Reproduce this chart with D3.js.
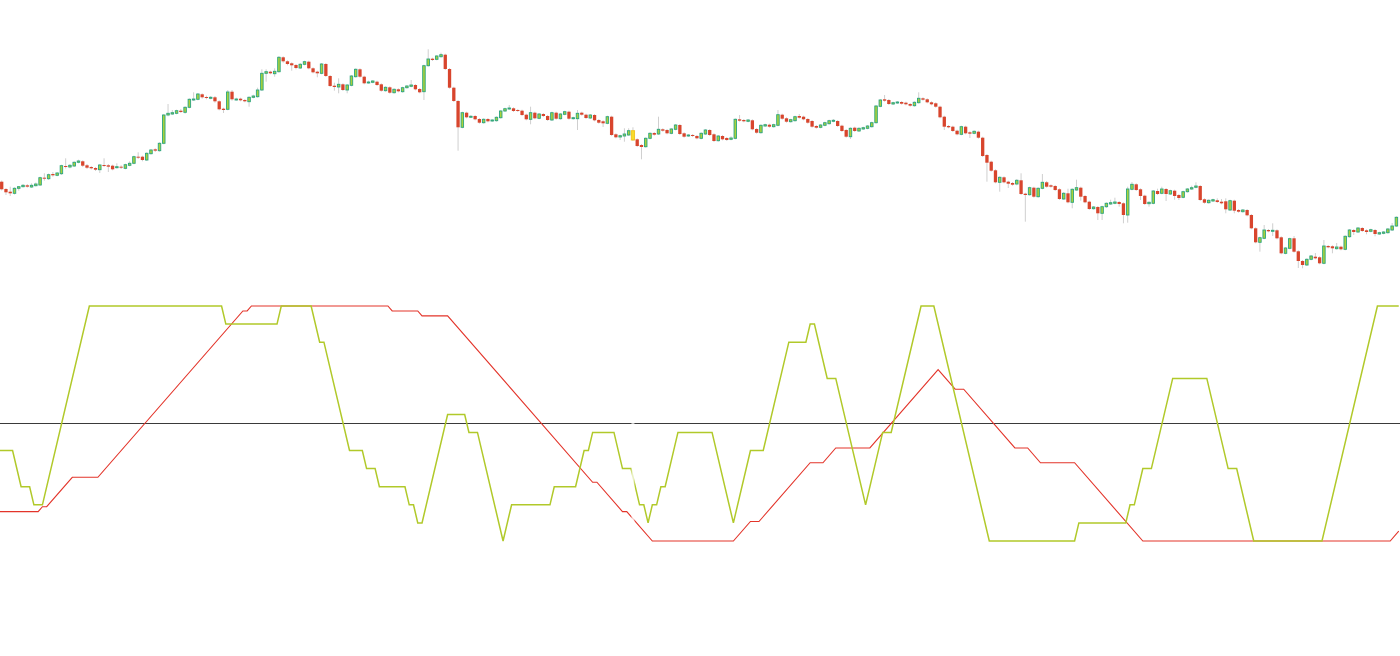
<!DOCTYPE html>
<html>
<head>
<meta charset="utf-8">
<script src="https://cdn.jsdelivr.net/npm/d3@7"></script>
<style>
  html, body { margin: 0; padding: 0; background: #fff; }
  svg { display: block; }
</style>
</head>
<body>
<svg id="chart" width="1400" height="656"></svg>
<script>
// Candle data, one entry per bar (price units are arbitrary, no axis shown)
var opens = [118.3,111,108.3,106.7,111.7,113.3,114.7,113,114.3,115,122.3,121.3,126,124.7,126.3,134,133,134,137.7,138.7,
  134.7,133,132,130.3,135,134.7,134.3,132.3,133.3,131.7,134.7,136.7,143.3,143.3,140,146.3,150.7,149.3,156.7,185,
  186,186.7,189.3,187.7,192.7,200,200.7,205.7,203,201.7,202.7,198.7,191.3,190.7,208.3,200.3,201.3,200,198.3,202.7,
  203.3,210,226.7,228.3,226.3,228.3,242.7,238.7,236.7,235,232,235.7,238.3,231.7,228.3,226.7,236,224,214.3,213,
  215.7,210,214.7,223.3,230.7,223.3,217.3,217.7,218.3,215.7,209.3,212.7,207.3,210.7,208.3,212.3,213.7,215,211,208.3,
  234.3,241.3,240.7,243.3,245.3,231,212.3,199,172.7,187.3,183.3,184,181,177.3,181,179,179.3,182.3,189,191,
  191.7,190,189.3,185.3,180.7,187.3,181.7,186,184,180,187.3,181.3,185.7,188.3,181.3,181.3,187.3,185.3,182,185,
  180,178.7,176.7,183.3,165.7,163,164,165,169.3,160.7,155,153.3,161.7,167,166,170.7,170,166.7,170.7,175,
  166.7,164,165,164,161.7,166,170,165.7,159.3,164,162,160.7,161.7,180.7,180,178.7,179.7,171,167.3,174,
  175.3,173.3,174.7,185.3,181.7,178.3,179.3,184,183.3,181,179,174,172.7,174.7,176.3,178.7,179,174.3,170,163.3,
  172.3,169,171,171.7,173.3,177.3,193.7,200.7,200,196,197,198,197.3,196,194.3,197.3,201.7,200.7,197.7,196.7,
  193.3,183.3,174,173.3,169.3,165.7,173.3,167.7,166.7,168.3,162.3,145,138.3,129.7,117.7,122.7,118.3,117,116,119.7,
  106.3,105.3,112.3,103.3,111.7,117.7,114.7,114,110.7,101,106.7,97.7,110,112.3,104,98.3,91.3,93,86.7,93.3,
  96,96.7,98,96.7,85,110.7,115.7,110.7,104.3,96.3,96.7,109,106.7,111,106,109.3,105,102.7,108.3,111,
  112.7,114,100.7,97.3,99,99.7,98.3,98.7,90,99.3,90,88.3,90,85,71.7,57.7,61.7,70,68.7,69.7,
  62.7,46.7,51.7,61.7,48.7,39,35,40.7,43.3,42.7,36.7,54,53.7,51.3,53.3,50.7,63.3,70,68,72,
  69.7,68.7,70,66,66.7,67.3,70,74];
var closes = [110.7,107.7,106.7,111.7,113.3,114.7,113.3,114.7,116,122.3,121.3,125.3,124.7,127,134.3,133,134.7,137.7,139,134.3,
  132.3,131.7,130.3,135,134,133.3,130.7,133.3,132.3,135.3,136.7,143.3,142.7,140,146.7,150,149.3,156.7,185,186.7,
  187.3,189.3,188,192.7,200.7,201,206,202.7,202,202.7,198.7,190.7,190,208,200.7,201,199.7,198.7,202.7,204,
  210,226.7,228.3,226.7,228.7,242.7,238.7,236,234.7,232,235.7,238.3,231.7,227.7,226.7,236,224,214,213,215.7,
  210,215,224,230.7,223.3,216.7,218,219,215,209.3,212.7,207.3,210.7,208.7,212.3,214,215,210.7,207.7,234.3,
  241,240,244,245.3,231,212.3,199,172.7,187.3,182.7,183.7,180.7,177.3,180.7,178.7,180,182.7,189,191.3,192,
  189,189,185,180.7,187.3,181.7,186,184,180,187.3,181.3,186,188.3,181.3,182.3,186.7,185.3,182,185,179.7,
  177.3,176.7,183.3,165,162.7,164.3,166,169.3,160,154,153,161.7,166.7,165.3,170.7,169.3,166.7,171,175,166,
  163.3,165,164,161.7,166.7,170,165,159,164,160.7,160,162,180.7,179.3,178.7,180,170.7,167.3,174.7,175.3,
  173.3,175.3,185.3,181.3,178.3,180.3,183.3,182.3,180.7,177.3,173.3,172.3,175,177.3,179.3,179.7,174,169,163.3,171.7,
  169,171.7,172.3,174,177.3,194,200,199.3,196,197.3,198,196.3,195.7,194.3,197.7,201.7,200.3,197.7,195.7,193.3,
  182.7,173.3,172.7,169,165.7,173.3,166.7,166.3,168.7,162.3,144,137.3,129.3,117.7,122.7,117.7,116.3,115.3,119.7,106,
  105,112.3,103.3,111.7,117.7,113.3,113.3,110,101,106.7,97.7,110.7,112.3,103.3,97.7,91,93,86.7,93.3,96.7,
  97.3,98,96,85,111,115.7,110,104,96,97.7,109,106,111,106,109.3,104,102,108.3,111,112.3,
  114,100,97.3,99.7,100.3,98,96.7,90.7,99.3,89.3,88.3,90,84.7,71.7,57.7,62.3,70,68.7,69.7,61.7,
  46.7,52,61.3,48.3,39,35,40.7,44,41.7,36.7,54,52.7,51.7,53,50.7,63.7,70,68,72,69,
  68,70.3,66,67.3,68,71,74,82.7];
var highs = [119.5,112,113.3,112.7,114,116,116,116.7,117.5,123.3,126.7,126.5,128,128,135.3,141.7,136,138.7,140.3,139.7,
  136,134,133,136,141.7,136,135.3,136.7,134.7,136.3,138.7,144.3,147.7,144.3,147.7,151,151.7,157.7,186,196,
  190,190.3,191,193.7,201.7,207.7,207,206.7,204.3,204,204,199.7,192.3,210,210,202.3,202.3,201,203.7,205.3,
  212.3,230.7,230.7,229.3,231.7,244,243.7,239.7,237.7,236,237,239.3,239.3,232.7,229.3,237,237,225,217.3,221.7,
  216.7,216,225,231.7,231.7,224.3,219.3,220,219.3,216.7,213.7,213.7,211.7,211.7,213.3,215,220,216,212,235.3,
  250.7,242.3,245,247.3,246.3,232,213.3,200,188.3,188.3,185,185,182,181.7,182,181,183.7,190,192.3,195,
  192.7,191,190.3,186.3,193.3,188.3,187,187,185,188.3,188.3,187,189.3,189.3,183.3,190,188.3,186.3,186,186,
  181,179.7,184.3,184.3,166.7,165.3,171.7,171.7,172.7,161.7,156,162.7,167.7,168,183.3,171.7,171,172,176,176,
  167.7,166,166,165,167.7,171,171,166.7,165,165,163,163.7,181.7,185,181,181,180.7,172,175.7,176.3,
  176.3,176.3,190,186.3,182.7,181.3,184.3,186,184.3,182,180,175,176,178.3,180.3,181,180,175.3,171,172.7,
  173.3,172.7,173.3,175,178.3,195,201,205,201,198.3,199,199,198.3,197,198.7,207.7,202.7,201.7,198.7,197.7,
  194.3,184.3,175,174.3,170.3,174.3,174.3,168.7,169.7,169.3,163.3,146,139.3,130.7,123.7,123.7,119.3,118,121,126.7,
  107.3,113.3,113.3,112.7,126,119,115.7,115,111.7,108,111.3,111.7,120.3,113.3,105,99.3,94,94,94.3,97.7,
  100.3,102.3,99,97.7,113.3,118,116.7,111.7,105.3,98.7,110,111.3,113.3,112,110.3,110.3,106,109.3,112,114.3,
  117.7,115,101.7,100.7,101.3,101.7,101,101.7,100.3,100.3,91,91,91,86,72.7,63.3,75,71,76.7,70.7,
  63.7,53,62.3,64,49.7,40,41.7,45,47,43.7,60,55,54.7,57,54.3,64.7,71,71,73,73,
  70.7,71.3,71,68.3,69,72,77,83.7];
var lows = [109.5,105,104,105.5,109.3,112.5,112.3,112,113.5,114,119.3,120,123.3,123.7,125,131.5,131.7,133,136.7,133,
  131,130.5,129,127,133,128,129.7,131.3,131,130.7,133.7,135.7,141,138.7,139,145.3,148,148.3,155.7,183.7,
  185,185.7,187,186.3,191.7,199,199.7,201.3,200.7,200.7,197.3,189.7,187,189.7,199.3,199.3,198.7,197.7,193.3,201.7,
  202.3,209,218.3,225.7,223.3,227.3,237.3,234.7,229.3,230.7,231,234.7,230.7,226.7,222.7,225.7,223,213,209.3,206.7,
  209,206.7,213.7,222.3,222.3,215.7,216.3,216.7,214,208.3,208.3,206.3,206.3,207.7,207.3,211.3,212.7,209.7,206.7,200,
  233.3,239,239.7,242.3,230,211.3,198,149.3,171.7,181.7,182.3,179.7,176.3,176.3,177.7,178,178.3,181.3,188,190,
  188,188,184,179.7,175.7,180.7,180.7,183,179,179,180.3,180.3,184.7,180.3,180.3,170,184.3,181,181,178.7,
  176.3,173,175.7,164,161.7,160,158.3,164,159,153,140.7,152.3,160.7,164.3,165,168.3,165.7,165.7,169.7,165,
  162.3,163,163,160.7,160.7,165,164,158,158.3,159.7,159,159.7,160.7,178.3,177.7,177.7,169.7,166.3,166.3,173,
  172.3,172.3,173.7,180.3,177.3,177.3,178.3,181.3,179.7,176.3,172.3,171.3,171.7,173.7,175.3,177.7,173,168,162.3,161,
  168,168,170,170.7,172.3,176.3,192.7,198.3,195,195,196,195.3,194.7,193.3,193.3,196.3,199.3,196.7,194.7,192.3,
  181.7,170,171.7,168,164.7,164.7,165.7,162,165.7,161.3,143,118.3,128.3,116.7,108.3,116.7,112,114.3,114.7,105,
  78.3,104.3,102.3,102.3,110.7,112.3,112.3,109,100,100,96.7,91.7,109,99.3,96.7,90,90.3,80,80,92,
  95,95.7,93.3,76.7,77.3,109.7,109,100,95,93.3,95.7,105,105.7,99,105,100.3,100,101.7,107.3,110,
  111.7,99,96.3,96.3,98,97,95.7,86.7,89,86.7,87.3,87.3,83.7,70.7,56.7,48.3,60.7,67.7,64,60.7,
  45.7,45.7,50.7,47.3,32,31.7,34,39.7,40.7,35.7,35.7,51.7,46.7,50.3,49.7,49.7,62.3,65,67,68,
  65.7,67.7,63.7,65,65.7,66.3,69,73];
var markedBar = 148; // bar drawn in yellow

// Indicator lines: turning points (bar index, value 0..100)
var greenBars = [-1,2,4,6,7,9,20,51,52,64,65,72,74,75,81,84,85,87,88,94,95,96,97,98,104,108,109,111,117,119,
  128,129,134,136,137,138,143,145,147,149,150,151,152,153,154,155,158,166,171,175,178,184,188,189,190,193,195,202,206,208,
  215,218,231,251,252,263,264,265,267,269,274,282,287,289,293,309,322,327];
var greenVals = [38.5,38.5,23.1,23.1,15.4,15.4,100,100,92.3,92.3,100,100,84.6,84.6,38.5,38.5,30.8,30.8,23.1,23.1,15.4,15.4,7.7,7.7,53.8,53.8,46.2,46.2,0,15.4,
  15.4,23.1,23.1,38.5,38.5,46.2,46.2,30.8,30.8,15.4,15.4,7.7,15.4,15.4,23.1,23.1,46.2,46.2,7.7,38.5,38.5,84.6,84.6,92.3,92.3,69.2,69.2,15.4,46.2,46.2,
  100,100,0,0,7.7,7.7,15.4,15.4,30.8,30.8,69.2,69.2,30.8,30.8,0,0,100,100];
var redBars = [-1,8,9,10,16,22,56,57,58,90,91,97,98,104,138,139,145,146,152,171,175,177,189,192,195,203,219,223,225,237,
  240,243,251,267,325,327];
var redVals = [12.5,12.5,14.6,14.6,27.1,27.1,97.9,97.9,100,100,97.9,97.9,95.8,95.8,25,25,12.5,12.5,0,0,8.3,8.3,33.3,33.3,39.6,39.6,72.9,64.6,64.6,39.6,
  39.6,33.3,33.3,0,0,4.2];
var levelLine = 50;

var svg = d3.select("#chart");

var x = d3.scaleLinear().domain([0, opens.length - 1]).range([1.7, 1396.4]);
var y = d3.scaleLinear().domain([0, 300]).range([300, 0]);
var yInd = d3.scaleLinear().domain([0, 100]).range([541, 306]);
var indShift = 0.55; // indicator points sit a little right of the candle centres

var candles = opens.map(function (o, i) {
    return { i: i, o: o, c: closes[i], h: highs[i], l: lows[i] };
});

// Wicks
svg.append("g").selectAll("line")
    .data(candles)
    .enter().append("line")
    .attr("x1", function (d) { return x(d.i); })
    .attr("x2", function (d) { return x(d.i); })
    .attr("y1", function (d) { return y(d.h); })
    .attr("y2", function (d) { return y(d.l); })
    .attr("stroke", "#cfcfcf")
    .attr("stroke-width", 1);

// Bodies
svg.append("g").selectAll("rect")
    .data(candles)
    .enter().append("rect")
    .attr("x", function (d) { return d.c >= d.o ? x(d.i) - 1.25 : x(d.i) - 1.65; })
    .attr("width", function (d) { return d.c >= d.o ? 2.5 : 3.3; })
    .attr("y", function (d) { return y(Math.max(d.o, d.c)); })
    .attr("height", function (d) { return Math.max(1, Math.abs(y(d.o) - y(d.c))); })
    .attr("fill", function (d) {
        if (d.i == markedBar) return "#f7dc2a";
        return d.c >= d.o ? "#a9d13a" : "#d8452d";
    })
    .attr("stroke", function (d) {
        if (d.i == markedBar) return "#f2c21a";
        return d.c >= d.o ? "#2aa57f" : "none";
    })
    .attr("stroke-width", 0.9);

// Indicator pane
svg.append("line")
    .attr("x1", 0).attr("x2", 1400)
    .attr("y1", Math.floor(yInd(levelLine)) + 0.5)
    .attr("y2", Math.floor(yInd(levelLine)) + 0.5)
    .attr("stroke", "#3a3a3a")
    .attr("stroke-width", 1);

var indLine = d3.line()
    .x(function (d) { return x(d[0] + indShift); })
    .y(function (d) { return yInd(d[1]); });

svg.append("path")
    .datum(redBars.map(function (b, k) { return [b, redVals[k]]; }))
    .attr("d", indLine)
    .attr("fill", "none")
    .attr("stroke", "#e3342a")
    .attr("stroke-width", 1.1);

svg.append("path")
    .datum(greenBars.map(function (b, k) { return [b, greenVals[k]]; }))
    .attr("d", indLine)
    .attr("fill", "none")
    .attr("stroke", "#b1c92a")
    .attr("stroke-width", 1.5);

// pale band over the indicator at the marked bar
svg.append("rect")
    .attr("x", x(markedBar) - 1.5)
    .attr("width", 3)
    .attr("y", 290)
    .attr("height", 270)
    .attr("fill", "#fff")
    .attr("opacity", 0.7);
</script>
</body>
</html>
